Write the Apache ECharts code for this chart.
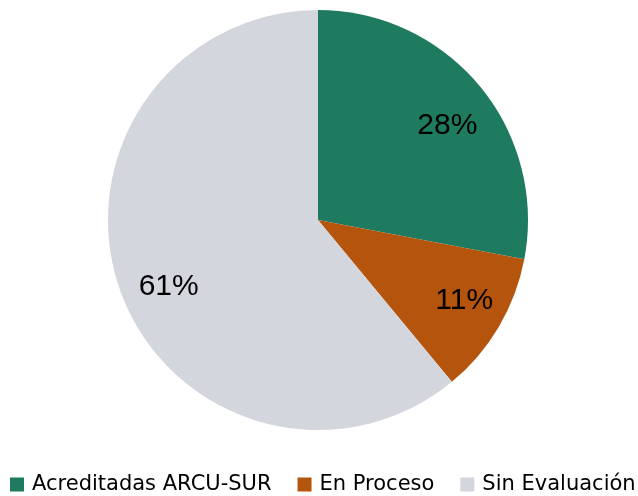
<!DOCTYPE html>
<html>
<head>
<meta charset="utf-8">
<script src="https://cdn.jsdelivr.net/npm/echarts@6/dist/echarts.min.js"></script>
<style>
  html, body { margin: 0; padding: 0; background: #fff; }
  #chart { width: 638px; height: 496px; }
</style>
</head>
<body>
<div id="chart"></div>
<script>
// categorias y porcentajes
const categories = ['Acreditadas ARCU-SUR', 'En Proceso', 'Sin Evaluación'];
const values = [28, 11, 61];
const colors = ['#1e7b5f', '#b5540c', '#d3d6dd'];
// pequeños ajustes de posición de las etiquetas (px)
const labelShift = [[3, 10], [5, -3], [5, 11]];

const chart = echarts.init(document.getElementById('chart'));

const pieData = categories.map((name, i) => ({
  name: name,
  value: values[i],
  itemStyle: { color: colors[i] }
}));

const option = {
  animation: false,
  legend: {
    top: 474,
    left: 10,
    padding: 0,
    width: 628,
    itemWidth: 14,
    itemHeight: 14,
    itemGap: 26,
    icon: 'rect',
    textStyle: {
      fontFamily: 'DejaVu Sans',
      fontSize: 21,
      color: '#000',
      padding: [0, 0, 0, 3]
    },
    data: categories
  },
  series: [
    {
      // sectores
      type: 'pie',
      center: [318, 220],
      radius: [0, 210],
      startAngle: 90,
      clockwise: true,
      label: { show: false },
      labelLine: { show: false },
      emphasis: { disabled: true },
      data: pieData
    },
    {
      // capa de etiquetas (transparente)
      type: 'pie',
      center: [318, 220],
      radius: [112, 210],
      startAngle: 90,
      clockwise: true,
      silent: true,
      legendHoverLink: false,
      itemStyle: { color: 'rgba(0,0,0,0)' },
      label: {
        show: true,
        position: 'inside',
        formatter: '{c}%',
        fontFamily: 'Liberation Sans',
        fontSize: 30,
        color: '#000'
      },
      labelLine: { show: false },
      data: categories.map((name, i) => ({
        name: name + ' ',
        value: values[i],
        label: { offset: labelShift[i] }
      }))
    }
  ]
};

chart.setOption(option);
</script>
</body>
</html>
